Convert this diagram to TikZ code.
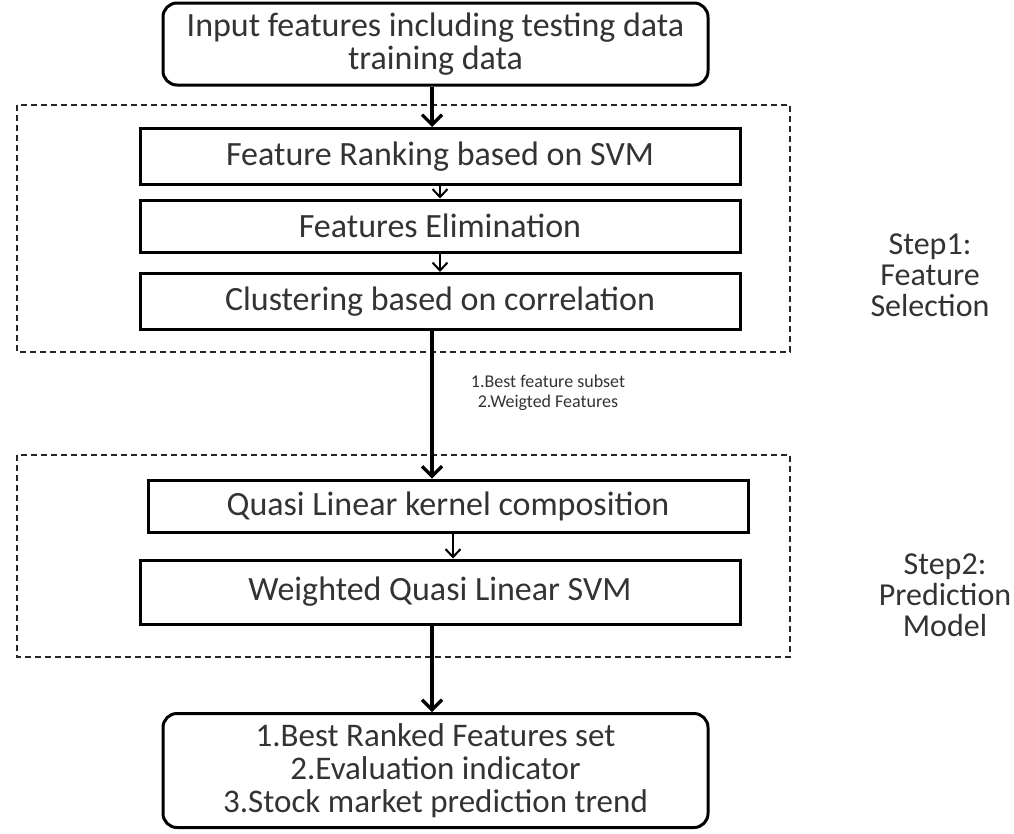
\documentclass[tikz,border=0pt]{standalone}
\usepackage{fontspec}
\setmainfont{Carlito}
\usetikzlibrary{arrows.meta,calc}
\begin{document}
\begin{tikzpicture}[x=1pt,y=-1pt,
  txt/.style={text=black!80, font=\fontsize{34}{33}\selectfont},
  procbox/.style={draw=black, line width=3pt, minimum width=600pt, minimum height=56pt, inner sep=0pt, txt},
  roundbox/.style={draw=black, line width=3pt, rounded corners=14pt, minimum width=545pt, inner sep=0pt, align=center, txt},
  group/.style={draw=black!85, line width=1.4pt, dash pattern=on 6pt off 4pt},
  bigarr/.style={line width=3.2pt, -{Straight Barb[length=10pt,width=20pt,line width=3.2pt]}},
  smallarr/.style={line width=2pt, -{Straight Barb[length=8pt,width=15pt,line width=2pt]}},
  sidetext/.style={align=center, text=black!80, font=\fontsize{32}{31}\selectfont},
  lbl/.style={align=center, text=black!80, font=\fontsize{18}{20}\selectfont}
]
\useasboundingbox (0,0) rectangle (1014,833);
\fill[white] (0,0) rectangle (1014,833);

% dashed group boxes
\draw[group] (17,105) rectangle (790,352);
\draw[group] (17,455) rectangle (790,657);

% nodes
\node[roundbox, minimum height=82pt] (top) at (435.5,44) {Input features including testing data\\training data};
\node[procbox] (r1) at (440,156.5) {Feature Ranking based on SVM};
\node[procbox, minimum height=52pt] (r2) at (440,226) {Features Elimination};
\node[procbox] (r3) at (440,301.5) {Clustering based on correlation};
\node[procbox, minimum height=52pt] (q1) at (448,506) {Quasi Linear kernel composition};
\node[procbox, minimum height=64pt] (q2) at (440,592) {Weighted Quasi Linear SVM};
\node[roundbox, minimum height=114pt, font=\fontsize{33}{33}\selectfont] (out) at (435.5,770.5) {1.Best Ranked Features set\\2.Evaluation indicator\\3.Stock market prediction trend};

\node[sidetext] (s1) at (930,275) {Step1:\\Feature\\Selection};
\node[sidetext] (s2) at (945,595) {Step2:\\Prediction\\Model};
\node[lbl] (l1) at (548,393) {1.Best feature subset\\2.Weigted Features};

% connectors
\draw[bigarr] ([xshift=-3.5pt]top.south) -- ([xshift=-3.5pt]top.south |- r1.north);
\draw[smallarr] (r1.south) -- (r2.north);
\draw[smallarr] (r2.south) -- (r3.north);
\draw[bigarr] ([xshift=-8pt]r3.south) -- ([xshift=-8pt]r3.south |- q1.north);
\draw[smallarr] ([xshift=5pt]q1.south) -- ([xshift=5pt]q1.south |- q2.north);
\draw[bigarr] ([xshift=-8pt]q2.south) -- ([xshift=-8pt]q2.south |- out.north);
\end{tikzpicture}
\end{document}
